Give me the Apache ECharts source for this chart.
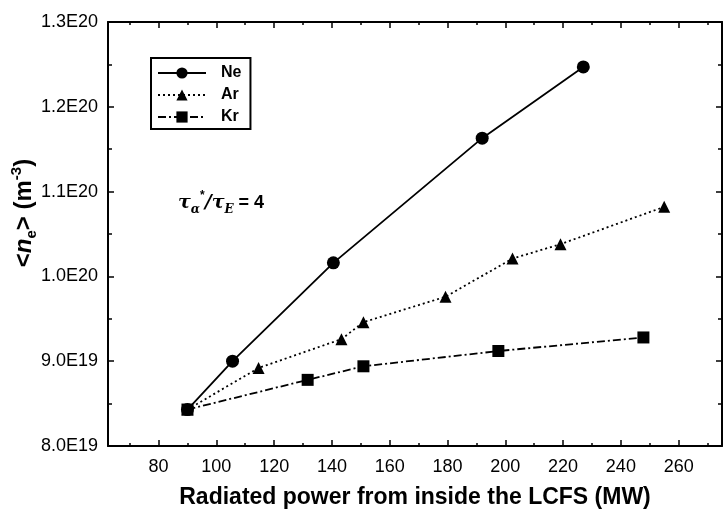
<html>

<head>
    <meta charset="utf-8" />
    <script src="https://cdn.jsdelivr.net/npm/echarts@6/dist/echarts.min.js"></script>
    <title>Density vs radiated power</title>
    <style>
        body { margin: 0; background: #fff; }
        #chart { width: 723px; height: 509px; }
    </style>
</head>

<body>
    <div id="chart"></div>

    <script type="text/javascript">
        // radiated power (MW) and <n_e> in units of 1E19 m^-3
        var SCALE = 1e19;
        var neX = [90, 105.6, 140.5, 192, 227];
        var neY = [8.43, 9.0, 10.16, 11.63, 12.47];
        var arX = [90, 114.6, 143.3, 150.9, 179.3, 202.5, 219.1, 255];
        var arY = [8.43, 8.92, 9.26, 9.46, 9.76, 10.21, 10.38, 10.82];
        var krX = [90, 131.6, 150.9, 197.6, 247.8];
        var krY = [8.43, 8.78, 8.94, 9.12, 9.28];

        var xMajor = [80, 100, 120, 140, 160, 180, 200, 220, 240, 260];
        var xMinor = [70, 90, 110, 130, 150, 170, 190, 210, 230, 250, 270];

        function pairs(xs, ys) {
            return xs.map(function (x, i) { return [x, ys[i] * SCALE]; });
        }

        function sciLabel(v) {
            var m = Math.round(v / 1e18);
            if (m >= 100) return (m / 100).toFixed(1) + 'E20';
            return (m / 10).toFixed(1) + 'E19';
        }

        var font = 'Liberation Sans, Arial, sans-serif';
        var black = '#000';

        function xAxisDef(pos, ticks, len, showLine, showLabel) {
            return {
                type: 'value', position: pos, min: 62.5, max: 275,
                axisLine: { show: showLine, onZero: false, lineStyle: { color: black, width: 2 } },
                axisTick: { show: true, inside: true, length: len, customValues: ticks, lineStyle: { color: black, width: 1.5 } },
                axisLabel: { show: showLabel, customValues: xMajor, color: black, fontSize: 18, fontFamily: font, margin: 12 },
                splitLine: { show: false }
            };
        }

        function yAxisDef(pos, showLabel) {
            return {
                type: 'value', position: pos, min: 8e19, max: 1.3e20, interval: 1e19,
                axisLine: { show: true, onZero: false, lineStyle: { color: black, width: 2 } },
                axisTick: { show: true, inside: true, length: 6, lineStyle: { color: black, width: 1.5 } },
                minorTick: { show: true, splitNumber: 2, length: 4, lineStyle: { color: black, width: 1.5 } },
                axisLabel: { show: showLabel, formatter: sciLabel, color: black, fontSize: 18, fontFamily: font, margin: 10 },
                splitLine: { show: false }
            };
        }

        var xMain = xAxisDef('bottom', xMajor, 6, true, true);
        xMain.name = 'Radiated power from inside the LCFS (MW)';
        xMain.nameLocation = 'middle';
        xMain.nameGap = 40;
        xMain.nameTextStyle = { color: black, fontSize: 23, fontWeight: 'bold', fontFamily: font };

        var chart = echarts.init(document.getElementById('chart'));
        var option = {
            backgroundColor: '#fff',
            animation: false,
            grid: { left: 108, right: 1, top: 22, bottom: 63, outerBoundsMode: 'none' },
            xAxis: [
                xMain,
                xAxisDef('bottom', xMinor, 3, false, false),
                xAxisDef('top', xMajor, 6, true, false),
                xAxisDef('top', xMinor, 3, false, false)
            ],
            yAxis: [yAxisDef('left', true), yAxisDef('right', false)],
            legend: {
                orient: 'vertical', left: 151, top: 58,
                itemWidth: 48, itemHeight: 14, itemGap: 6,
                padding: [7, 9, 4, 6],
                borderColor: black, borderWidth: 2,
                textStyle: { color: black, fontSize: 16, fontWeight: 'bold', fontFamily: font, padding: [0, 0, 0, 10] },
                data: ['Ne', 'Ar', 'Kr']
            },
            graphic: [
                {
                    type: 'text', x: 24, y: 213, rotation: Math.PI / 2,
                    style: {
                        text: '{b|<}{n|n}{s|e}{b|> (m}{p|-3}{b|)}',
                        align: 'center', verticalAlign: 'middle',
                        rich: {
                            b: { fontSize: 24, fontWeight: 'bold', fontFamily: font, fill: black, lineHeight: 34 },
                            n: { fontSize: 24, fontWeight: 'bold', fontStyle: 'italic', fontFamily: font, fill: black, lineHeight: 34 },
                            s: { fontSize: 15, fontWeight: 'bold', fontFamily: font, fill: black, lineHeight: 34, verticalAlign: 'bottom', padding: [0, 0, 2, 0] },
                            p: { fontSize: 15, fontWeight: 'bold', fontFamily: font, fill: black, lineHeight: 34, verticalAlign: 'top', padding: [2, 0, 0, 0] }
                        }
                    }
                },
                {
                    type: 'text', x: 178, y: 203,
                    style: {
                        text: '{t|τ}{s|α}{p|*}{t|/τ}{s|E}{b| = 4}',
                        verticalAlign: 'middle',
                        rich: {
                            t: { fontSize: 19, fontWeight: 'bold', fontStyle: 'italic', fontFamily: 'DejaVu Serif, serif', fill: black, lineHeight: 26 },
                            s: { fontSize: 12, fontWeight: 'bold', fontStyle: 'italic', fontFamily: 'DejaVu Serif, serif', fill: black, lineHeight: 26, verticalAlign: 'bottom' },
                            p: { fontSize: 12, fontWeight: 'bold', fontFamily: font, fill: black, lineHeight: 26, verticalAlign: 'top' },
                            b: { fontSize: 18, fontWeight: 'bold', fontFamily: font, fill: black, lineHeight: 26 }
                        }
                    }
                }
            ],
            series: [
                {
                    name: 'Ne', type: 'line', data: pairs(neX, neY),
                    symbol: 'circle', symbolSize: 13,
                    lineStyle: { color: black, width: 1.8, type: 'solid' },
                    itemStyle: { color: black }
                },
                {
                    name: 'Ar', type: 'line', data: pairs(arX, arY),
                    symbol: 'triangle', symbolSize: 12,
                    lineStyle: { color: black, width: 1.8, type: [2, 3] },
                    itemStyle: { color: black }
                },
                {
                    name: 'Kr', type: 'line', data: pairs(krX, krY),
                    symbol: 'rect', symbolSize: 12,
                    lineStyle: { color: black, width: 1.8, type: [8, 3, 2, 3] },
                    itemStyle: { color: black }
                }
            ]
        };
        chart.setOption(option);
    </script>

</body>

</html>
